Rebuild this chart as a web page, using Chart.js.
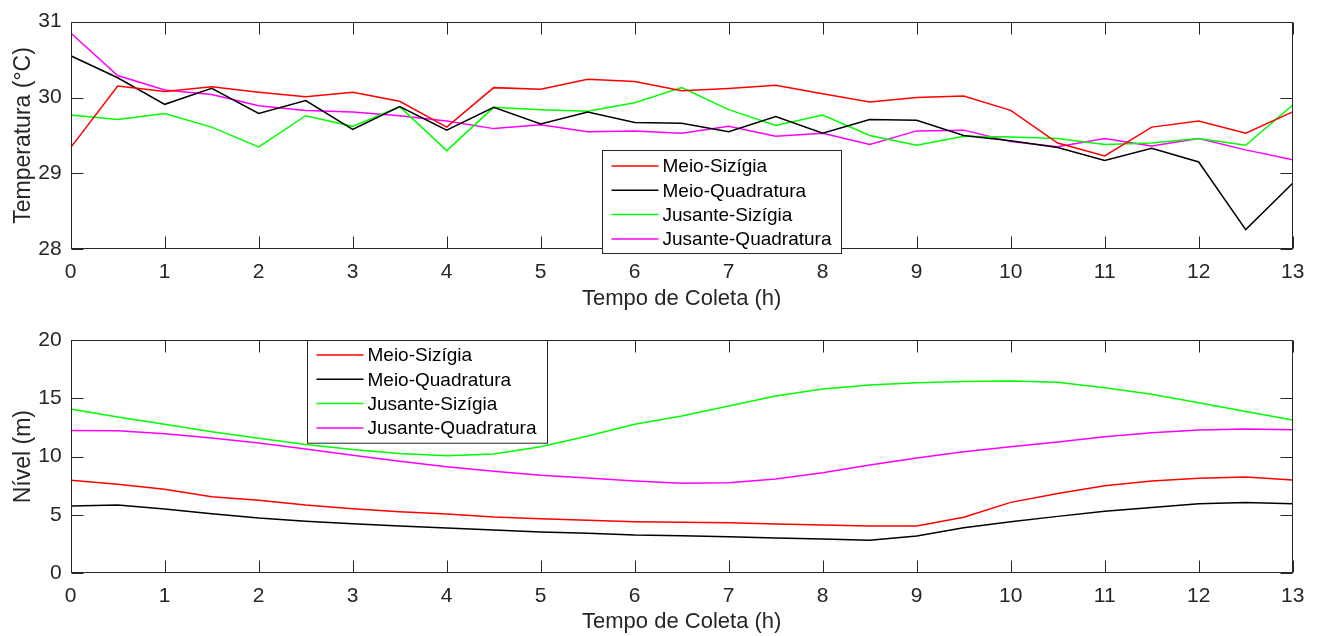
<!DOCTYPE html>
<html lang="pt">
<head>
<meta charset="utf-8">
<title>Temperatura e Nível</title>
<script src="https://cdn.jsdelivr.net/npm/chart.js@4.4.1/dist/chart.umd.min.js"></script>
<style>
    html, body { margin: 0; padding: 0; background: #ffffff; }
    #wrap { position: relative; width: 1321px; height: 636px; }
    canvas { position: absolute; left: 0; }
    #tempChart { top: 0; }
    #nivelChart { top: 318px; }
</style>
</head>
<body>
<div id="wrap">
    <canvas id="tempChart" width="1321" height="318"></canvas>
    <canvas id="nivelChart" width="1321" height="318"></canvas>
</div>
<script>
// Tempo de coleta (h), uma amostra a cada meia hora
const hours = [0, 0.5, 1, 1.5, 2, 2.5, 3, 3.5, 4, 4.5, 5, 5.5, 6, 6.5, 7, 7.5, 8, 8.5, 9, 9.5, 10, 10.5, 11, 11.5, 12, 12.5, 13];

const seriesNames = ['Meio-Sizígia', 'Meio-Quadratura', 'Jusante-Sizígia', 'Jusante-Quadratura'];

// Temperatura (°C)
const tempMeioSizigia = [29.34, 30.15, 30.08, 30.14, 30.07, 30.01, 30.07, 29.95, 29.61, 30.13, 30.11, 30.24, 30.21, 30.09, 30.12, 30.16, 30.05, 29.94, 30.00, 30.02, 29.83, 29.40, 29.23, 29.61, 29.69, 29.53, 29.81];
const tempMeioQuadratura = [30.55, 30.26, 29.91, 30.12, 29.79, 29.96, 29.58, 29.88, 29.57, 29.87, 29.65, 29.81, 29.67, 29.66, 29.55, 29.75, 29.53, 29.71, 29.70, 29.50, 29.43, 29.34, 29.17, 29.33, 29.15, 28.26, 28.87];
const tempJusanteSizigia = [29.77, 29.71, 29.79, 29.61, 29.35, 29.76, 29.62, 29.88, 29.30, 29.87, 29.84, 29.82, 29.93, 30.13, 29.84, 29.63, 29.77, 29.50, 29.37, 29.49, 29.48, 29.46, 29.38, 29.40, 29.46, 29.37, 29.90];
const tempJusanteQuadratura = [30.85, 30.29, 30.10, 30.04, 29.89, 29.83, 29.81, 29.76, 29.69, 29.59, 29.64, 29.55, 29.56, 29.53, 29.62, 29.49, 29.53, 29.38, 29.56, 29.57, 29.42, 29.35, 29.46, 29.36, 29.46, 29.31, 29.18];

// Nível (m)
const nivelMeioSizigia = [7.97, 7.63, 7.20, 6.57, 6.26, 5.85, 5.54, 5.28, 5.08, 4.82, 4.68, 4.54, 4.42, 4.37, 4.34, 4.22, 4.14, 4.05, 4.05, 4.80, 6.08, 6.85, 7.50, 7.91, 8.14, 8.25, 8.00];
const nivelMeioQuadratura = [5.77, 5.85, 5.51, 5.11, 4.74, 4.46, 4.25, 4.05, 3.88, 3.71, 3.54, 3.43, 3.28, 3.22, 3.14, 3.03, 2.94, 2.83, 3.20, 3.91, 4.42, 4.88, 5.31, 5.65, 5.96, 6.08, 5.96];
const nivelJusanteSizigia = [14.08, 13.40, 12.77, 12.14, 11.57, 11.05, 10.62, 10.28, 10.08, 10.22, 10.85, 11.77, 12.77, 13.48, 14.34, 15.19, 15.79, 16.14, 16.33, 16.45, 16.48, 16.37, 15.90, 15.34, 14.62, 13.88, 13.14];
const nivelJusanteQuadratura = [12.25, 12.22, 11.96, 11.60, 11.17, 10.65, 10.11, 9.60, 9.14, 8.74, 8.40, 8.17, 7.91, 7.71, 7.76, 8.08, 8.62, 9.28, 9.88, 10.42, 10.85, 11.25, 11.71, 12.05, 12.28, 12.37, 12.31];

// Marcas dos eixos
const hourTicks = [0, 1, 2, 3, 4, 5, 6, 7, 8, 9, 10, 11, 12, 13];
const tempTicks = [28, 29, 30, 31];
const nivelTicks = [0, 5, 10, 15, 20];

const lineColors = ['#ff0000', '#000000', '#00ff00', '#ff00ff'];
const axisColor = '#262626';
const fontFamily = "'Liberation Sans', Arial, Helvetica, sans-serif";

Chart.defaults.font.family = fontFamily;
Chart.defaults.color = axisColor;

// Caixa dos eixos com marcas internas (estilo MATLAB)
const framePlugin = {
    id: 'frame',
    afterDatasetsDraw(chart) {
        const { ctx, chartArea: a, scales: { x, y } } = chart;
        const tick = 12;
        const L = Math.round(a.left) + 0.5, R = Math.round(a.right) - 0.5;
        const T = Math.round(a.top) + 0.5, B = Math.round(a.bottom) - 0.5;
        ctx.save();
        ctx.strokeStyle = axisColor;
        ctx.lineWidth = 1;
        ctx.beginPath();
        x.ticks.forEach(t => {
            const px = Math.round(x.getPixelForValue(t.value)) + 0.5;
            ctx.moveTo(px, B); ctx.lineTo(px, B - tick);
            ctx.moveTo(px, T); ctx.lineTo(px, T + tick);
        });
        y.ticks.forEach(t => {
            const py = Math.round(y.getPixelForValue(t.value)) + 0.5;
            ctx.moveTo(L, py); ctx.lineTo(L + tick, py);
            ctx.moveTo(R, py); ctx.lineTo(R - tick, py);
        });
        ctx.stroke();
        ctx.strokeRect(L, T, R - L, B - T);
        ctx.restore();
    }
};

// Legenda desenhada dentro da área do gráfico
const boxLegendPlugin = {
    id: 'boxLegend',
    afterDraw(chart, args, opts) {
        const { ctx, chartArea: a } = chart;
        const left = Math.round(a.left + opts.left) + 0.5;
        const top = Math.round(a.top + opts.top) + 0.5;
        ctx.save();
        ctx.fillStyle = '#ffffff';
        ctx.fillRect(left, top, opts.width, opts.height);
        ctx.strokeStyle = axisColor;
        ctx.lineWidth = 1;
        ctx.strokeRect(left, top, opts.width, opts.height);
        ctx.font = '19px ' + fontFamily;
        ctx.textBaseline = 'middle';
        ctx.textAlign = 'left';
        chart.data.datasets.forEach((ds, i) => {
            const cy = top + opts.firstRow + i * opts.rowStep;
            ctx.strokeStyle = ds.borderColor;
            ctx.lineWidth = 1.5;
            ctx.beginPath();
            ctx.moveTo(left + 9, cy);
            ctx.lineTo(left + 56, cy);
            ctx.stroke();
            ctx.fillStyle = '#000000';
            ctx.fillText(ds.label, left + 60, cy + 1);
        });
        ctx.restore();
    }
};

function buildDatasets(seriesValues) {
    return seriesValues.map((values, i) => ({
        label: seriesNames[i],
        data: values,
        borderColor: lineColors[i],
        backgroundColor: lineColors[i],
        borderWidth: 1.5,
        pointRadius: 0,
        tension: 0,
        fill: false
    }));
}

function makeChart(canvasId, seriesValues, yMin, yMax, yTickValues, yTitle, layoutTop, xAxisHeight, xTitleBottom, legendBox) {
    const ctx = document.getElementById(canvasId).getContext('2d');
    return new Chart(ctx, {
        type: 'line',
        data: {
            labels: hours,
            datasets: buildDatasets(seriesValues)
        },
        options: {
            responsive: false,
            animation: false,
            events: [],
            layout: {
                autoPadding: false,
                padding: { top: layoutTop, right: 28.3, bottom: 0, left: 0 }
            },
            plugins: {
                legend: { display: false },
                tooltip: { enabled: false },
                boxLegend: legendBox
            },
            scales: {
                x: {
                    type: 'linear',
                    min: 0,
                    max: 13,
                    grid: { display: false, drawTicks: false },
                    border: { display: false },
                    afterBuildTicks: scale => { scale.ticks = hourTicks.map(v => ({ value: v })); },
                    afterFit: scale => { scale.height = xAxisHeight; },
                    ticks: {
                        padding: 10,
                        maxRotation: 0,
                        autoSkip: false,
                        font: { size: 21 },
                        color: axisColor
                    },
                    title: {
                        display: true,
                        text: 'Tempo de Coleta (h)',
                        font: { size: 22 },
                        color: axisColor,
                        padding: { top: 0, bottom: xTitleBottom }
                    }
                },
                y: {
                    min: yMin,
                    max: yMax,
                    grid: { display: false, drawTicks: false },
                    border: { display: false },
                    afterBuildTicks: scale => { scale.ticks = yTickValues.map(v => ({ value: v })); },
                    afterFit: scale => { scale.width = 70.7; },
                    ticks: {
                        padding: 9,
                        autoSkip: false,
                        font: { size: 21 },
                        color: axisColor
                    },
                    title: {
                        display: true,
                        text: yTitle,
                        font: { size: 23 },
                        color: axisColor,
                        padding: { top: 10, bottom: 0 }
                    }
                }
            }
        },
        plugins: [framePlugin, boxLegendPlugin]
    });
}

makeChart('tempChart',
    [tempMeioSizigia, tempMeioQuadratura, tempJusanteSizigia, tempJusanteQuadratura],
    28, 31, tempTicks, 'Temperatura (°C)', 17.3, 68.7, 5.8,
    { left: 531, top: 128.7, width: 239, height: 103, firstRow: 15.5, rowStep: 24.3 });

makeChart('nivelChart',
    [nivelMeioSizigia, nivelMeioQuadratura, nivelJusanteSizigia, nivelJusanteQuadratura],
    0, 20, nivelTicks, 'Nível (m)', 22, 62.7, 0.5,
    { left: 236.3, top: 0, width: 240, height: 102.7, firstRow: 14.5, rowStep: 24.3 });
</script>
</body>
</html>
